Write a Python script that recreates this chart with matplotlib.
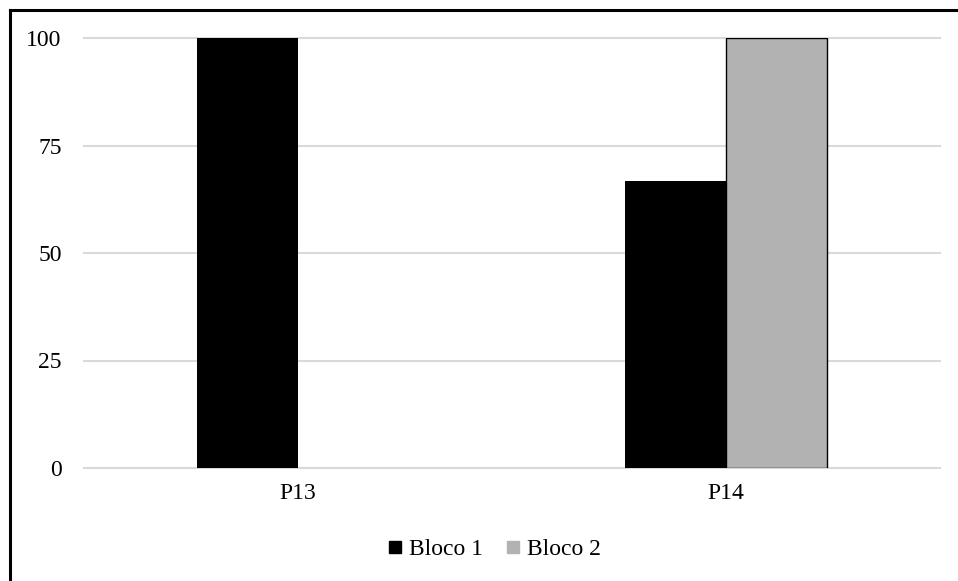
import matplotlib
matplotlib.use('Agg')
import numpy as np
import matplotlib.pyplot as plt
from matplotlib.lines import Line2D

categories = ['P13', 'P14']
bloco1 = [100, 66.67]
bloco2 = [0, 100]
y_ticks = [0, 25, 50, 75, 100]

plt.rcParams['font.family'] = ['Liberation Serif', 'DejaVu Serif']

W, H = 958, 581
fig = plt.figure(figsize=(W / 100, H / 100), dpi=100)

# frame of the chart area: only the top and left edges fall inside the image
fig.add_artist(Line2D([9.5 / W, 9.5 / W], [0, 1 - 9.5 / H], transform=fig.transFigure,
                      color='black', linewidth=2.2, solid_capstyle='projecting'))
fig.add_artist(Line2D([9.5 / W, 1], [1 - 9.5 / H, 1 - 9.5 / H], transform=fig.transFigure,
                      color='black', linewidth=2.2, solid_capstyle='projecting'))

ax = fig.add_axes([84 / W, 1 - 468 / H, (940 - 84) / W, (468 - 38) / H])

x = np.arange(len(categories))
width = 0.236
ax.bar(x - width / 2, bloco1, width, color='black', label='Bloco 1', zorder=3)
bars2 = ax.bar(x + width / 2, bloco2, width, color='#b2b2b2', edgecolor='black', linewidth=1.0,
               label='Bloco 2', zorder=3)
for b, v in zip(bars2, bloco2):
    if v == 0:
        b.set_visible(False)

ax.set_xlim(-0.5, 1.5)
ax.set_ylim(0, 100)
ax.set_yticks(y_ticks)
ax.set_xticks(x)
ax.set_xticklabels(categories)
ax.tick_params(axis='both', length=0, labelsize=17)
ax.tick_params(axis='y', pad=16)
ax.tick_params(axis='x', pad=11)
for s in ax.spines.values():
    s.set_visible(False)
for t in y_ticks:
    ax.axhline(t, color='#d9d9d9', linewidth=1.5, zorder=1, clip_on=False)

handles = [Line2D([], [], marker='s', linestyle='none', markersize=8.6, color='black'),
           Line2D([], [], marker='s', linestyle='none', markersize=8.6, color='#b2b2b2')]
fig.legend(handles, ['Bloco 1', 'Bloco 2'], loc='center', bbox_to_anchor=(494 / W, 1 - 549 / H),
           ncol=2, frameon=False, fontsize=17, handletextpad=0.25, columnspacing=0.9,
           handlelength=0.7)

fig.savefig('out.png', dpi=100)
